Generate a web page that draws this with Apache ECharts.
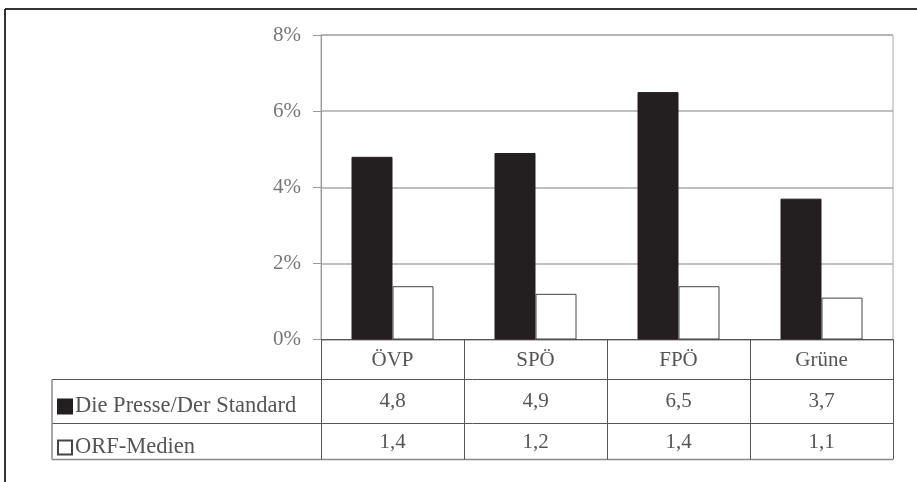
<!DOCTYPE html>
<html>
<head>
<meta charset="utf-8">
<script src="https://cdn.jsdelivr.net/npm/echarts@6/dist/echarts.min.js"></script>
<style>html,body{margin:0;padding:0;background:#fff}#c{width:917px;height:482px}</style>
</head>
<body>
<div id="c"></div>
<script>
var categories = ['ÖVP', 'SPÖ', 'FPÖ', 'Grüne'];
var seriesNames = ['Die Presse/Der Standard', 'ORF-Medien'];
var presseValues = [4.8, 4.9, 6.5, 3.7];
var orfValues = [1.4, 1.2, 1.4, 1.1];
var yTicks = [0, 2, 4, 6, 8];

function fmt(v) { return String(v).replace('.', ','); }

var FONT = 'Liberation Serif';
var TXT = '#555';
var LINE = '#555';

var chart = echarts.init(document.getElementById('c'), null, {renderer: 'canvas'});

var gridLeft = 321, gridRight = 24, gridTop = 35, gridBottom = 142.5;
var H = 482, W = 917;
var axisY = H - gridBottom; // 339.5
var rowH1 = 40, rowH2 = 44, rowH3 = 36;

var option = {
  animation: false,
  backgroundColor: '#fff',
  grid: {left: gridLeft, right: gridRight, top: gridTop, bottom: gridBottom, show: true, borderColor: '#aaa', borderWidth: 1, backgroundColor: 'transparent'},
  legend: {
    orient: 'vertical', left: 52, top: 390,
    icon: 'rect', itemWidth: 14, itemHeight: 14, itemGap: 18,
    textStyle: {fontFamily: FONT, fontSize: 22.5, color: TXT, lineHeight: 22, padding: [0, 0, 0, -2]},
    data: seriesNames
  },
  xAxis: [
    {
      type: 'category', data: categories, position: 'bottom',
      axisLine: {show: true, lineStyle: {color: LINE, width: 1}},
      axisTick: {show: true, length: rowH1 + rowH2 + rowH3, lineStyle: {color: LINE}},
      axisLabel: {margin: 10, fontFamily: FONT, fontSize: 21, color: TXT},
      splitLine: {show: false}
    },
    {
      type: 'category', data: presseValues.map(fmt), position: 'bottom', offset: rowH1,
      axisLine: {show: false}, axisTick: {show: false},
      axisLabel: {margin: 11, fontFamily: FONT, fontSize: 21, color: TXT}
    },
    {
      type: 'category', data: orfValues.map(fmt), position: 'bottom', offset: rowH1 + rowH2,
      axisLine: {show: false}, axisTick: {show: false},
      axisLabel: {margin: 8, fontFamily: FONT, fontSize: 21, color: TXT}
    }
  ],
  yAxis: {
    type: 'value', min: yTicks[0], max: yTicks[yTicks.length - 1], interval: yTicks[1] - yTicks[0],
    axisLine: {show: true, lineStyle: {color: '#999'}},
    axisTick: {show: true, length: 8, lineStyle: {color: '#999'}},
    axisLabel: {formatter: '{value}%', margin: 20, fontFamily: FONT, fontSize: 21, color: '#777'},
    splitLine: {show: true, lineStyle: {color: '#aaa', width: 1.5}}
  },
  series: [
    {
      name: seriesNames[0], type: 'bar', xAxisIndex: 0, data: presseValues,
      barWidth: 41, barGap: '0%',
      itemStyle: {color: '#231f20', borderColor: '#231f20', borderWidth: 1}
    },
    {
      name: seriesNames[1], type: 'bar', xAxisIndex: 0, data: orfValues,
      barWidth: 41, barGap: '0%',
      itemStyle: {color: '#ffffff', borderColor: '#444', borderWidth: 1}
    }
  ],
  graphic: [
    {type: 'line', shape: {x1: 5, y1: 9, x2: W, y2: 9}, style: {stroke: '#333', lineWidth: 2}, silent: true},
    {type: 'line', shape: {x1: 5, y1: 9, x2: 5, y2: H}, style: {stroke: '#333', lineWidth: 2}, silent: true},
    {type: 'line', shape: {x1: 52, y1: axisY + rowH1, x2: W - gridRight, y2: axisY + rowH1}, style: {stroke: LINE, lineWidth: 1}, silent: true},
    {type: 'line', shape: {x1: 52, y1: axisY + rowH1 + rowH2, x2: W - gridRight, y2: axisY + rowH1 + rowH2}, style: {stroke: LINE, lineWidth: 1}, silent: true},
    {type: 'line', shape: {x1: 52, y1: axisY + rowH1 + rowH2 + rowH3, x2: W - gridRight, y2: axisY + rowH1 + rowH2 + rowH3}, style: {stroke: '#888', lineWidth: 1.5}, silent: true},
    {type: 'line', shape: {x1: 52, y1: axisY + rowH1, x2: 52, y2: axisY + rowH1 + rowH2 + rowH3}, style: {stroke: '#888', lineWidth: 1.5}, silent: true}
  ]
};
chart.setOption(option);
</script>
</body>
</html>
